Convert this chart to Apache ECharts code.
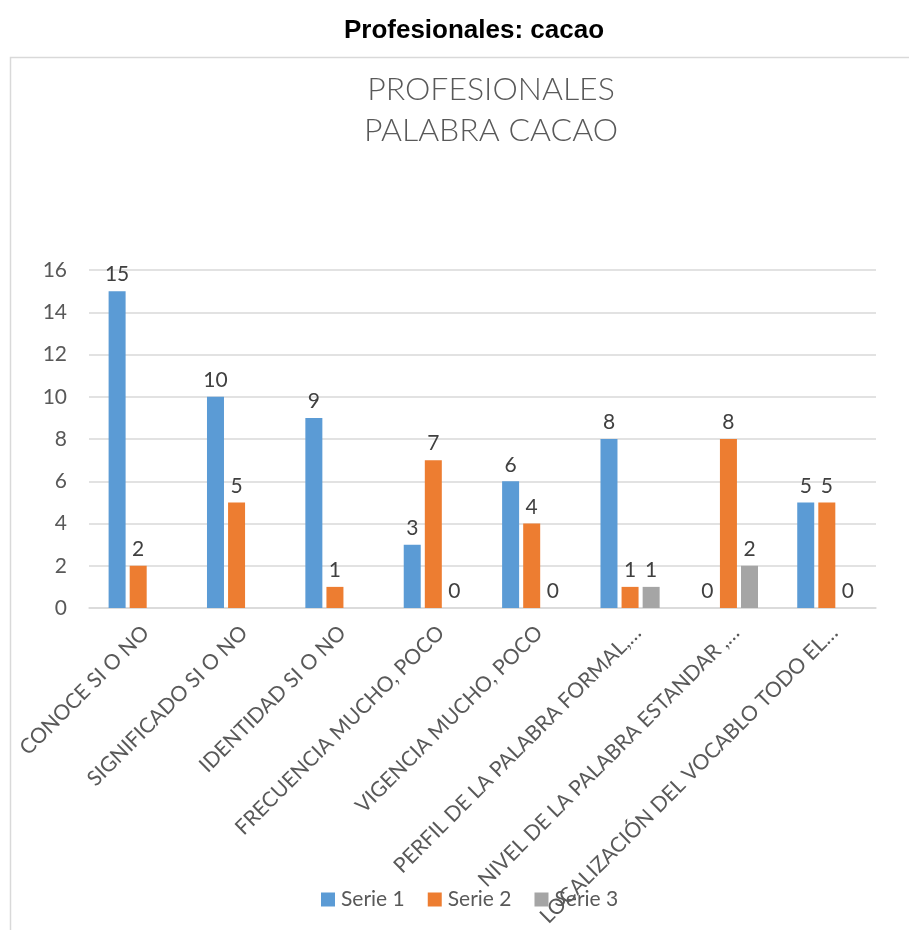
<!DOCTYPE html>
<html>
<head>
<meta charset="utf-8">
<script src="https://cdn.jsdelivr.net/npm/echarts@6/dist/echarts.min.js"></script>
<style>
html,body{margin:0;padding:0;background:#fff;}
#main{width:909px;height:930px;}
</style>
</head>
<body>
<div id="main"></div>
<script>
const categories = [
  'CONOCE SI O NO',
  'SIGNIFICADO SI O NO',
  'IDENTIDAD SI O NO',
  'FRECUENCIA MUCHO, POCO',
  'VIGENCIA MUCHO, POCO',
  'PERFIL DE LA PALABRA FORMAL,…',
  'NIVEL DE LA PALABRA ESTANDAR ,…',
  'LOCALIZACIÓN DEL VOCABLO TODO EL…'
];
const serie1 = [15, 10, 9, 3, 6, 8, 0, 5];
const serie2 = [2, 5, 1, 7, 4, 1, 8, 5];
const serie3 = [null, null, null, 0, 0, 1, 2, 0];
const yTicks = { min: 0, max: 16, interval: 2 };
const seriesNames = ['Serie 1', 'Serie 2', 'Serie 3'];
const colors = ['#5B9BD5', '#ED7D31', '#A5A5A5'];

const chart = echarts.init(document.getElementById('main'), null, { renderer: 'canvas' });
const font = 'Lato, "Open Sans", sans-serif';
const labelStyle = { show: true, position: 'top', distance: 6, color: '#404040', fontFamily: font, fontSize: 21 };

function mk(name, data, i) {
  return {
    name: name, type: 'bar', data: data, barWidth: 17, barGap: '24%',
    itemStyle: { color: colors[i] },
    label: labelStyle,
    animation: false
  };
}

chart.setOption({
  animation: false,
  color: colors,
  title: {
    text: 'Profesionales: cacao', left: 469, top: 13, textAlign: 'center',
    textStyle: { fontFamily: '"Liberation Sans", Arial, sans-serif', fontWeight: 'bold', fontSize: 26, color: '#000' }
  },
  graphic: [
    { type: 'rect', shape: { x: 10.5, y: 57.5, width: 920, height: 900 }, style: { fill: 'none', stroke: '#D9D9D9', lineWidth: 1.5 }, silent: true },
    { type: 'text', x: 491, y: 69, style: { text: 'PROFESIONALES\nPALABRA CACAO', fill: '#595959', font: '300 32px Lato, sans-serif', textAlign: 'center', lineHeight: 41 } }
  ],
  legend: {
    data: seriesNames, left: 316, top: 884, itemWidth: 14, itemHeight: 14, itemGap: 23,
    icon: 'rect',
    textStyle: { fontFamily: font, fontSize: 21, color: '#595959', padding: [0, 0, 0, 1] }
  },
  grid: { left: 89, right: 33, top: 270, bottom: 322, containLabel: false },
  xAxis: {
    type: 'category', data: categories,
    axisLine: { lineStyle: { color: '#D9D9D9', width: 1.5 } },
    axisTick: { show: false },
    axisLabel: { interval: 0, rotate: 45, margin: 14, verticalAlign: 'top', color: '#595959', fontFamily: font, fontSize: 21 }
  },
  yAxis: {
    type: 'value', min: yTicks.min, max: yTicks.max, interval: yTicks.interval,
    axisLine: { show: false }, axisTick: { show: false },
    splitLine: { lineStyle: { color: '#D9D9D9', width: 1.5 } },
    axisLabel: { margin: 22, color: '#595959', fontFamily: font, fontSize: 21 }
  },
  series: [mk(seriesNames[0], serie1, 0), mk(seriesNames[1], serie2, 1), mk(seriesNames[2], serie3, 2)]
});
</script>
</body>
</html>
